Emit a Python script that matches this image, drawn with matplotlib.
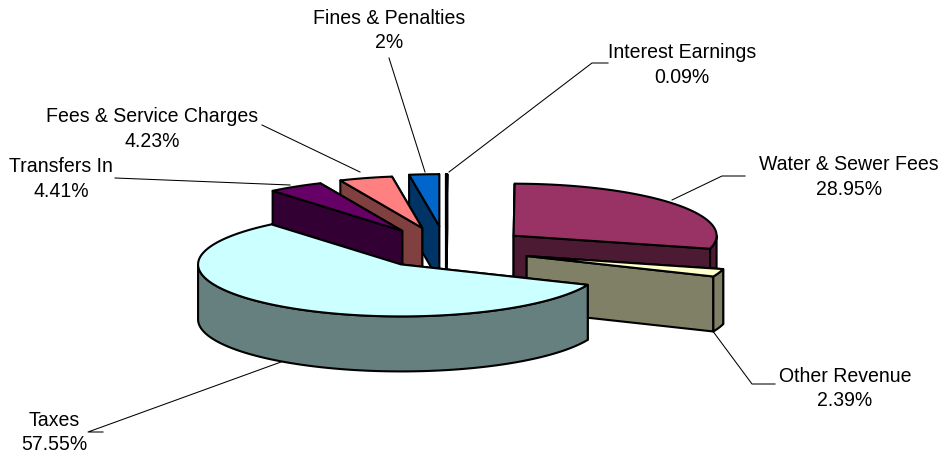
import numpy as np
import matplotlib
matplotlib.use("Agg")
import matplotlib.pyplot as plt
from matplotlib.patches import Polygon

# Data, clockwise from 12 o'clock
categories = ["Interest Earnings", "Water & Sewer Fees", "Other Revenue", "Taxes",
              "Transfers In", "Fees & Service Charges", "Fines & Penalties"]
values = [0.09, 28.95, 2.39, 57.55, 4.41, 4.23, 2.38]
value_labels = ["0.09%", "28.95%", "2.39%", "57.55%", "4.41%", "4.23%", "2%"]

# Styles / layout
top_colors = ["#FFFFFF", "#993366", "#FFFFCC", "#CCFFFF", "#660066", "#FF8080", "#0066CC"]
side_colors = ["#808080", "#4D1A33", "#808066", "#668080", "#330033", "#804040", "#003366"]
explode = [0.44, 0.42, 0.42, 0.37, 0.41, 0.42, 0.44]
draw_order = [0, 6, 5, 4, 1, 2, 3]
CX, CY, RX, RY, DEPTH = 446, 249, 203, 52, 55
LW = 1.5

label_pos = [(682, 53), (849, 165), (845, 376), (54, 420), (61, 167), (152, 117), (389, 18)]
leaders = [
    [(608, 63), (592, 63), (449, 172)],
    [(745, 176), (722, 176), (672, 200)],
    [(775, 384), (752, 384), (712, 330)],
    [(103, 432), (88, 432), (281, 362)],
    [(115, 178), (290, 185)],
    [(262, 125), (360, 172)],
    [(389, 58), (425, 172)],
]

plt.rcParams["font.family"] = ["Liberation Sans", "DejaVu Sans"]
fig = plt.figure(figsize=(9.45, 4.57), dpi=100)
ax = fig.add_axes([0, 0, 1, 1])
ax.set_xlim(0, 945)
ax.set_ylim(457, 0)
ax.axis("off")

fractions = np.array(values) / np.sum(values)
edges = np.concatenate([[0], np.cumsum(fractions)]) * 2 * np.pi


def rim(ax0, ay0, t):
    return np.column_stack([ax0 + RX * np.sin(t), ay0 - RY * np.cos(t)])


z = 1


def face(pts, color):
    global z
    ax.add_patch(Polygon(pts, closed=True, facecolor=color, edgecolor="black",
                         linewidth=LW, joinstyle="round", zorder=z))
    z += 1


for pts in leaders:
    arr = np.array(pts)
    ax.plot(arr[:, 0], arr[:, 1], color="black", lw=0.75, zorder=0)

for i in draw_order:
    a0, a1 = edges[i], edges[i + 1]
    mid = (a0 + a1) / 2
    ax0 = CX + explode[i] * RX * np.sin(mid)
    ay0 = CY - explode[i] * RY * np.cos(mid)
    apex = np.array([ax0, ay0])
    down = np.array([0, DEPTH])
    # radial faces, back one first
    ends = sorted([a0, a1], key=lambda a: -np.cos(a))
    for a in ends:
        p = rim(ax0, ay0, np.array([a]))[0]
        face([apex, p, p + down, apex + down], side_colors[i])
    # outer rim, front-facing part only
    lo, hi = max(a0, np.pi / 2), min(a1, 3 * np.pi / 2)
    if hi > lo:
        t = np.linspace(lo, hi, 120)
        arc = rim(ax0, ay0, t)
        face(np.vstack([arc, arc[::-1] + down]), side_colors[i])
    # top
    t = np.linspace(a0, a1, 200)
    face(np.vstack([apex, rim(ax0, ay0, t)]), top_colors[i])

for name, val, (x, y) in zip(categories, value_labels, label_pos):
    ax.text(x, y, name, ha="center", va="center", fontsize=14.05, color="black", zorder=z)
    ax.text(x, y + 24.5, val, ha="center", va="center", fontsize=14.05, color="black", zorder=z)

fig.savefig("out.png", dpi=100, facecolor="white")
